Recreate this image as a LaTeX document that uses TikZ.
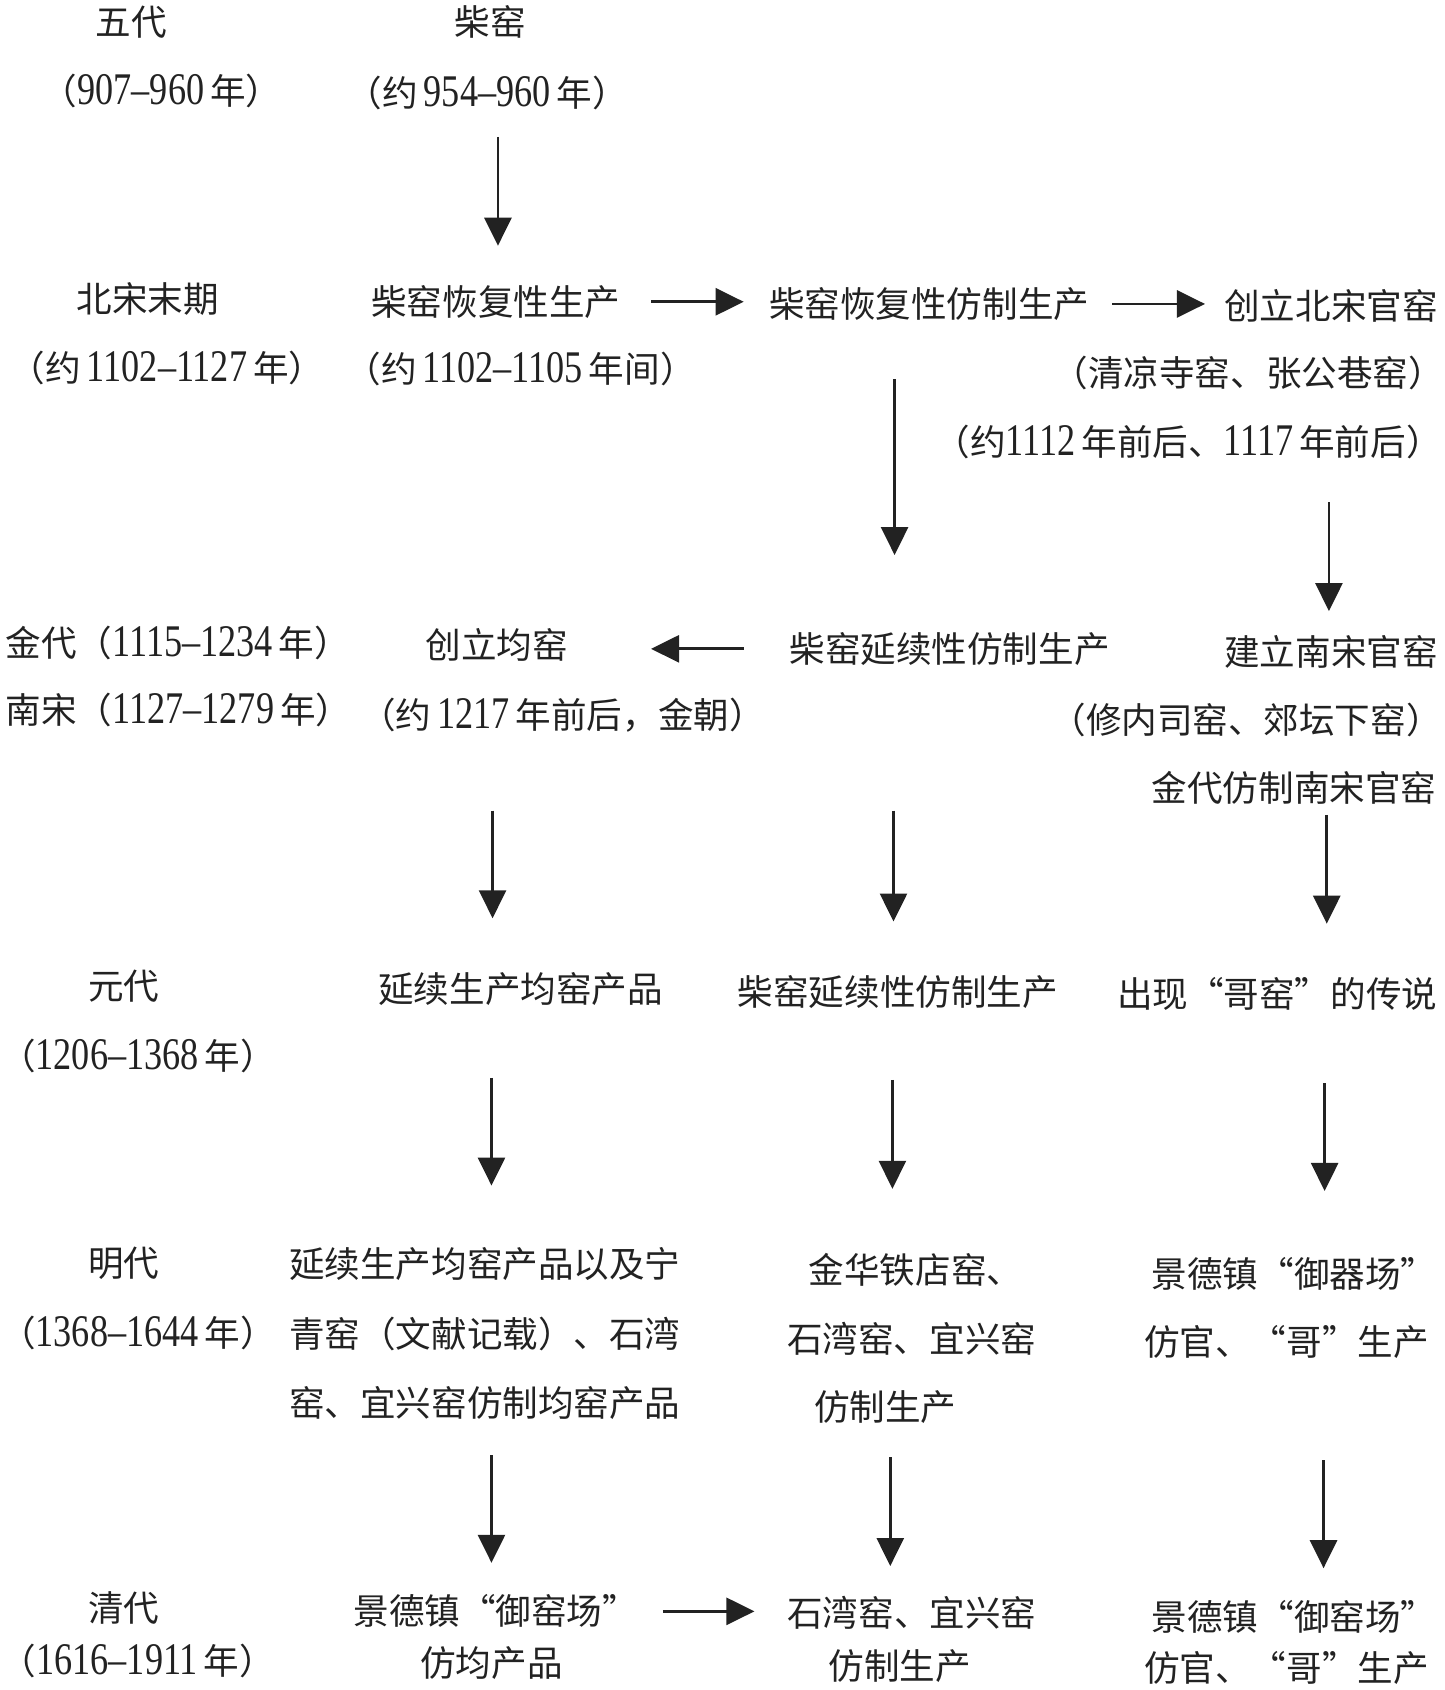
\documentclass[tikz,border=0pt]{standalone}
\usepackage{fontspec}
\usepackage{graphicx}
\usetikzlibrary{arrows.meta}
\newfontfamily\cjk{Noto Sans CJK SC}
\newfontfamily\numf{Liberation Serif}
\newcommand\nm[1]{\scalebox{0.8}[1]{\numf\fontsize{21}{21}\selectfont #1}}
\definecolor{ink}{HTML}{222222}
\tikzset{
  txt/.style={inner sep=0pt, text height=14pt, text depth=1.5pt, text=ink,
    font=\cjk\fontsize{16.5}{20}\selectfont},
  arr/.style={draw=ink, line width=1.3pt, -{Triangle[length=13pt,width=12.5pt]}},
}
\begin{document}
\begin{tikzpicture}[x=0.5pt,y=-0.5pt]
\useasboundingbox (0,0) rectangle (1340,1568);
\fill[white] (0,0) rectangle (1340,1568);
% columns
\coordinate (x462) at (462,0);
\coordinate (x830) at (830,0);
\coordinate (x1233) at (1233,0);
\coordinate (x457) at (457,0);
\coordinate (x829) at (829,0);
\coordinate (x1231) at (1231,0);
\coordinate (x456) at (456,0);
\coordinate (x828) at (828,0);
\coordinate (x1229) at (1229,0);
\coordinate (x826) at (826,0);
\coordinate (x1228) at (1228,0);
% era column
\node[txt] (e1a) at (122,20) {五代};
\node[txt] (e1b) at (150,84) {（\nm{907–960}\,年）};
\node[txt] (e2a) at (137,277) {北宋末期};
\node[txt] (e2b) at (155,341) {（约\,\nm{1102–1127}\,年）};
\node[txt,anchor=west] (e3a) at (5,597) {金代（\nm{1115–1234}\,年）};
\node[txt,anchor=west] (e3b) at (5,659) {南宋（\nm{1127–1279}\,年）};
\node[txt] (e4a) at (115,915) {元代};
\node[txt] (e4b) at (128,980) {（\nm{1206–1368}\,年）};
\node[txt] (e5a) at (115,1172) {明代};
\node[txt] (e5b) at (128,1237) {（\nm{1368–1644}\,年）};
\node[txt] (e6a) at (115,1492) {清代};
\node[txt] (e6b) at (128,1541) {（\nm{1616–1911}\,年）};
% row 1-2
\node[txt] (a1) at (455,20) {柴窑};
\node[txt] (a1d) at (452,86) {（约\,\nm{954–960}\,年）};
\node[txt] (b1) at (460,280) {柴窑恢复性生产};
\node[txt] (b1d) at (483,342) {（约\,\nm{1102–1105}\,年间）};
\node[txt] (b2) at (862,282) {柴窑恢复性仿制生产};
\node[txt] (b3) at (1235,284) {创立北宋官窑};
\node[txt,anchor=east] (b3d) at (1340,346) {（清凉寺窑、张公巷窑）};
\node[txt,anchor=east] (b3e) at (1338,410) {（约\nm{1112}\,年前后、\nm{1117}\,年前后）};
% row 3
\node[txt] (c1) at (461,598) {创立均窑};
\node[txt] (c1d) at (522,663) {（约\,\nm{1217}\,年前后，金朝）};
\node[txt] (c2) at (881,602) {柴窑延续性仿制生产};
\node[txt] (c3) at (1235,605) {建立南宋官窑};
\node[txt,anchor=east] (c3d) at (1338,668) {（修内司窑、郊坛下窑）};
\node[txt,anchor=east] (c3e) at (1333,731) {金代仿制南宋官窑};
% row 4
\node[txt] (d1) at (483,918) {延续生产均窑产品};
\node[txt] (d2) at (833,920) {柴窑延续性仿制生产};
\node[txt] (d3) at (1185,922) {出现“哥窑”的传说};
% row 5
\node[txt,anchor=west] (f1a) at (268,1173) {延续生产均窑产品以及宁};
\node[txt,anchor=west] (f1b) at (268,1238) {青窑（文献记载）、石湾};
\node[txt,anchor=west] (f1c) at (268,1302) {窑、宜兴窑仿制均窑产品};
\node[txt,anchor=west] (f2a) at (750,1178) {金华铁店窑、};
\node[txt,anchor=west] (f2b) at (730,1242) {石湾窑、宜兴窑};
\node[txt,anchor=west] (f2c) at (755,1305) {仿制生产};
\node[txt,anchor=east] (f3a) at (1333,1182) {景德镇“御器场”};
\node[txt,anchor=east] (f3b) at (1326,1245) {仿官、“哥”生产};
% row 6
\node[txt] (g1a) at (460,1495) {景德镇“御窑场”};
\node[txt] (g1b) at (456,1543) {仿均产品};
\node[txt] (g2a) at (846,1497) {石湾窑、宜兴窑};
\node[txt] (g2b) at (835,1546) {仿制生产};
\node[txt,anchor=east] (g3a) at (1333,1500) {景德镇“御窑场”};
\node[txt,anchor=east] (g3b) at (1326,1548) {仿官、“哥”生产};
% connectors
\draw[arr, shorten <=20.5pt, shorten >=26pt] (a1d -| x462) -- (b1 -| x462);
\draw[arr, shorten <=72pt, shorten >=86pt] (b1.center) -- (b1.center -| b2.center);
\draw[arr, shorten <=85pt, shorten >=58.5pt] (b2.center) -- (b2.center -| b3.center);
\draw[arr, shorten <=35pt, shorten >=43.5pt] (b2 -| x830) -- (c2 -| x830);
\draw[arr, shorten <=28pt, shorten >=19pt] (b3e -| x1233) -- (c3 -| x1233);
\draw[arr, shorten <=95.5pt, shorten >=71.5pt] (c2.center) -- (c2.center -| c1.center);
\draw[arr, shorten <=44.5pt, shorten >=33pt] (c1d -| x457) -- (d1 -| x457);
\draw[arr, shorten <=75pt, shorten >=32.5pt] (c2 -| x829) -- (d2 -| x829);
\draw[arr, shorten <=12.5pt, shorten >=32.5pt] (c3e -| x1231) -- (d3 -| x1231);
\draw[arr, shorten <=41pt, shorten >=36.5pt] (d1 -| x456) -- (f1a -| x456);
\draw[arr, shorten <=41pt, shorten >=37.5pt] (d2 -| x828) -- (f2a -| x828);
\draw[arr, shorten <=41.5pt, shorten >=38.5pt] (d3 -| x1229) -- (f3a -| x1229);
\draw[arr, shorten <=24pt, shorten >=22.5pt] (f1c -| x456) -- (g1a -| x456);
\draw[arr, shorten <=23.5pt, shorten >=22pt] (f2c -| x826) -- (g2a -| x826);
\draw[arr, shorten <=55pt, shorten >=22.5pt] (f3b -| x1228) -- (g3a -| x1228);
\draw[arr, shorten <=77.5pt, shorten >=73pt] (g1a.center) -- (g1a.center -| g2a.center);
\end{tikzpicture}
\end{document}
